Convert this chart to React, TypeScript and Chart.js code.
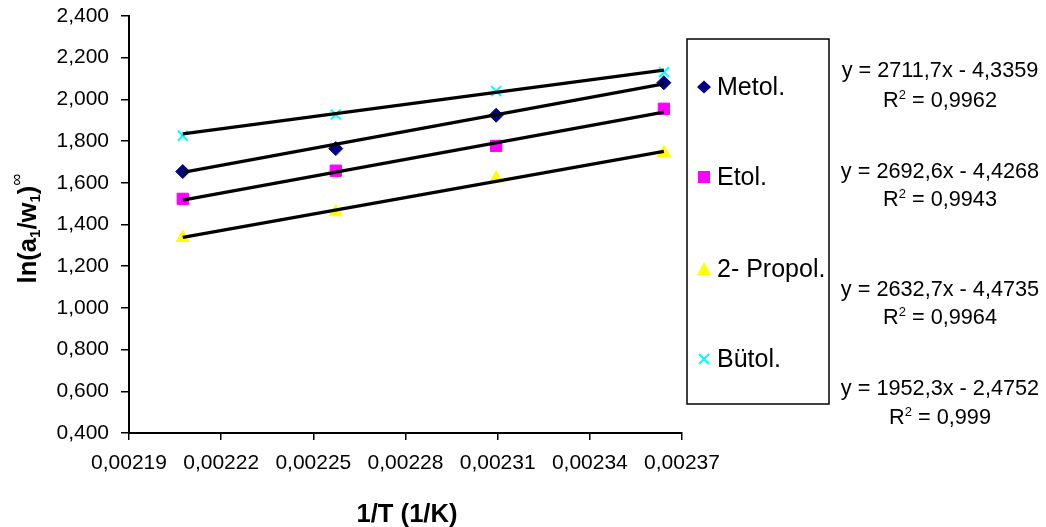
import { useEffect, useRef } from 'react';
import { Chart, registerables } from 'chart.js';

Chart.register(...registerables);

// ---- data ----
const X_VALUES = [0.0022075, 0.0022573, 0.0023095, 0.0023641];
const SERIES_NAMES = ['Metol.', 'Etol.', '2- Propol.', 'Bütol.'];
const METOL = [1.654, 1.764, 1.924, 2.08];
const ETOL = [1.523, 1.658, 1.777, 1.955];
const PROPOL = [1.337, 1.46, 1.622, 1.744];
const BUTOL = [1.826, 1.928, 2.04, 2.131];

const TREND_X = [0.0022075, 0.0023641];
const METOL_TREND = [1.6502, 2.0748];
const ETOL_TREND = [1.5171, 1.9388];
const PROPOL_TREND = [1.3382, 1.7505];
const BUTOL_TREND = [1.8345, 2.1402];

const EQUATIONS = ['y = 2711,7x - 4,3359', 'y = 2692,6x - 4,4268', 'y = 2632,7x - 4,4735', 'y = 1952,3x - 2,4752'];
const R2_VALUES = ['0,9962', '0,9943', '0,9964', '0,999'];

const X_TICKS = [0.00219, 0.00222, 0.00225, 0.00228, 0.00231, 0.00234, 0.00237];
const Y_TICKS = [0.4, 0.6, 0.8, 1.0, 1.2, 1.4, 1.6, 1.8, 2.0, 2.2, 2.4];

const X_TITLE = '1/T (1/K)';

// ---- styles ----
const FONT = '"Liberation Sans", Arial, sans-serif';
const COLORS = ['#000080', '#FF00FF', '#FFFF00', '#00FFFF'];
const POINT_STYLES = ['rectRot', 'rect', 'triangle', 'crossRot'];
const POINT_RADII = [7, 8, 7.5, 7];

function drawMarker(ctx: CanvasRenderingContext2D, kind: number, x: number, y: number) {
  ctx.save();
  ctx.fillStyle = COLORS[kind];
  ctx.strokeStyle = COLORS[kind];
  ctx.beginPath();
  if (kind === 0) {
    ctx.moveTo(x - 7, y);
    ctx.lineTo(x, y - 6.5);
    ctx.lineTo(x + 7, y);
    ctx.lineTo(x, y + 6.5);
    ctx.closePath();
    ctx.fill();
  } else if (kind === 1) {
    ctx.rect(x - 6, y - 6, 12, 12);
    ctx.fill();
  } else if (kind === 2) {
    ctx.moveTo(x, y - 7);
    ctx.lineTo(x + 7, y + 6);
    ctx.lineTo(x - 7, y + 6);
    ctx.closePath();
    ctx.fill();
  } else {
    ctx.lineWidth = 2;
    ctx.moveTo(x - 5, y - 5);
    ctx.lineTo(x + 5, y + 5);
    ctx.moveTo(x + 5, y - 5);
    ctx.lineTo(x - 5, y + 5);
    ctx.stroke();
  }
  ctx.restore();
}

const overlayPlugin = {
  id: 'overlay',
  afterDraw(chart: any) {
    const ctx: CanvasRenderingContext2D = chart.ctx;
    ctx.save();
    ctx.fillStyle = '#000';

    // legend box
    ctx.strokeStyle = '#000';
    ctx.lineWidth = 1.5;
    ctx.strokeRect(687, 39, 142, 365);
    const legendY = [87, 177, 269, 359];
    ctx.font = `25px ${FONT}`;
    ctx.textAlign = 'left';
    ctx.textBaseline = 'alphabetic';
    SERIES_NAMES.forEach((name, i) => {
      drawMarker(ctx, i, 704, legendY[i]);
      ctx.fillStyle = '#000';
      ctx.fillText(name, 717, legendY[i] + 8);
    });

    // equations
    const eqY1 = [77, 177.5, 295.5, 395];
    const eqY2 = [107, 205.5, 323.5, 423.5];
    const cx = 940;
    EQUATIONS.forEach((eq, i) => {
      ctx.font = `21.7px ${FONT}`;
      ctx.textAlign = 'center';
      ctx.fillText(eq, cx, eqY1[i]);
      ctx.textAlign = 'left';
      const big = `21.7px ${FONT}`;
      const small = `13px ${FONT}`;
      ctx.font = big;
      const wR = ctx.measureText('R').width;
      const rest = ' = ' + R2_VALUES[i];
      const wRest = ctx.measureText(rest).width;
      ctx.font = small;
      const w2 = ctx.measureText('2').width;
      const total = wR + w2 + wRest;
      let x = cx - total / 2;
      ctx.font = big;
      ctx.fillText('R', x, eqY2[i]);
      x += wR;
      ctx.font = small;
      ctx.fillText('2', x, eqY2[i] - 8);
      x += w2;
      ctx.font = big;
      ctx.fillText(rest, x, eqY2[i]);
    });

    // x title
    ctx.font = `bold 25.6px ${FONT}`;
    ctx.textAlign = 'center';
    ctx.fillText(X_TITLE, 407, 521.5);

    // y title: ln(a1/w1)^inf
    const parts: [string, string, number][] = [
      ['ln(a', `bold 25.6px ${FONT}`, 0],
      ['1', `bold 15px ${FONT}`, 4],
      ['/w', `bold 25.6px ${FONT}`, 0],
      ['1', `bold 15px ${FONT}`, 4],
      [')', `bold 25.6px ${FONT}`, 0],
      ['\u221E', `17px ${FONT}`, -14],
    ];
    let total = 0;
    const widths = parts.map(([t, f]) => {
      ctx.font = f;
      const w = ctx.measureText(t).width;
      total += w;
      return w;
    });
    ctx.translate(36, 228.5);
    ctx.rotate(-Math.PI / 2);
    ctx.textAlign = 'left';
    let px = -total / 2;
    parts.forEach(([t, f, dy], i) => {
      ctx.font = f;
      ctx.fillText(t, px, dy);
      px += widths[i];
    });
    ctx.restore();
  },
};

export default function App() {
  const ref = useRef<HTMLCanvasElement | null>(null);

  useEffect(() => {
    if (!ref.current) return;
    const series = [METOL, ETOL, PROPOL, BUTOL];
    const trends = [METOL_TREND, ETOL_TREND, PROPOL_TREND, BUTOL_TREND];

    const pointSets = series.map((vals, i) => ({
      label: SERIES_NAMES[i],
      data: X_VALUES.map((x, j) => ({ x, y: vals[j] })),
      showLine: false,
      pointStyle: POINT_STYLES[i],
      pointRadius: POINT_RADII[i],
      pointBackgroundColor: COLORS[i],
      pointBorderColor: COLORS[i],
      pointBorderWidth: i === 3 ? 2 : 1,
      order: 1,
    }));
    const trendSets = trends.map((vals, i) => ({
      label: SERIES_NAMES[i] + ' trend',
      data: TREND_X.map((x, j) => ({ x, y: vals[j] })),
      showLine: true,
      borderColor: '#000',
      borderWidth: 3.2,
      pointRadius: 0,
      fill: false,
      order: 0,
    }));

    const chart = new Chart(ref.current, {
      type: 'scatter',
      data: { datasets: [...pointSets, ...trendSets] as any },
      options: {
        animation: false,
        responsive: false,
        events: [],
        layout: { padding: { left: 0, top: 16, right: 364, bottom: 0 } },
        plugins: { legend: { display: false }, tooltip: { enabled: false } },
        scales: {
          x: {
            type: 'linear',
            min: 0.00219,
            max: 0.00237,
            afterBuildTicks: (s: any) => {
              s.ticks = X_TICKS.map((v) => ({ value: v }));
            },
            afterFit: (s: any) => {
              s.height = 94;
              s.paddingLeft = 0;
              s.paddingRight = 0;
            },
            ticks: {
              callback: (v: any) => Number(v).toFixed(5).replace('.', ','),
              font: { family: FONT, size: 21 },
              color: '#000',
              padding: 11,
              maxRotation: 0,
              autoSkip: false,
            },
            grid: { drawOnChartArea: false, drawTicks: true, tickLength: 7, color: '#000', lineWidth: 1.5 },
            border: { display: true, color: '#000', width: 2 },
          },
          y: {
            type: 'linear',
            min: 0.4,
            max: 2.4,
            afterBuildTicks: (s: any) => {
              s.ticks = Y_TICKS.map((v) => ({ value: v }));
            },
            afterFit: (s: any) => {
              s.width = 129;
              s.paddingTop = 0;
              s.paddingBottom = 0;
            },
            ticks: {
              callback: (v: any) => Number(v).toFixed(3).replace('.', ','),
              font: { family: FONT, size: 21 },
              color: '#000',
              padding: 12,
              autoSkip: false,
            },
            grid: { drawOnChartArea: false, drawTicks: true, tickLength: 8, color: '#000', lineWidth: 1.5 },
            border: { display: true, color: '#000', width: 2 },
          },
        },
      },
      plugins: [overlayPlugin],
    });
    return () => chart.destroy();
  }, []);

  return (
    <div style={{ position: 'absolute', left: 0, top: 0, width: 1046, height: 527, background: '#fff' }}>
      <canvas ref={ref} width={1046} height={527} style={{ display: 'block' }} />
    </div>
  );
}
